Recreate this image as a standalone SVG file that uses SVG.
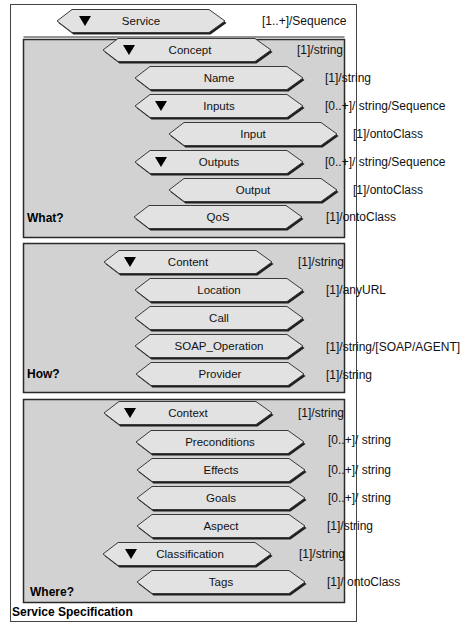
<svg xmlns="http://www.w3.org/2000/svg" xmlns:xlink="http://www.w3.org/1999/xlink" width="470" height="625" viewBox="0 0 470 625">
  <style>
    .panel { fill: #d2d2d2; stroke: #2a2a2a; stroke-width: 1.5; }
    .panel-top { stroke: #2a2a2a; stroke-width: 1; fill: none; }
    .frame { fill: #ffffff; stroke: #444; stroke-width: 1; }
    .name { font-family: "Liberation Sans", Arial, sans-serif; font-size: 11.5px; fill: #111; text-anchor: middle; }
    .type { font-family: "Liberation Sans", Arial, sans-serif; font-size: 12px; fill: #111; }
    .tag { font-family: "Liberation Sans", Arial, sans-serif; font-size: 12px; font-weight: bold; fill: #000; }
    .tri { fill: #000; }
  </style>
  <defs>
    <!-- hexagonal tab shape, origin at the left point -->
    <polygon id="tab" points="0,0 15,-11.5 152,-11.5 168,0 152,11.5 15,11.5"/>
    <g id="node">
      <use xlink:href="#tab" transform="translate(1.5,2)" fill="#1e1e1e"/>
      <use xlink:href="#tab" fill="#e2e2e2" stroke="#3a3a3a" stroke-width="1"/>
    </g>
    <polygon id="arrow" points="-6,-5 6,-5 0,5"/>
  </defs>

  <!-- outer frame -->
  <rect class="frame" x="10.5" y="4.5" width="346" height="617"/>
  <text class="tag" x="12" y="616">Service Specification</text>

  <!-- section panels -->
  <rect class="panel" x="23.5" y="39.5" width="321" height="198"/>
  <line class="panel-top" x1="23.5" y1="37" x2="344.5" y2="37"/>
  <rect class="panel" x="23.5" y="243.5" width="321" height="149"/>
  <rect class="panel" x="23.5" y="399.5" width="321" height="203"/>
  <text class="tag" x="27" y="222">What?</text>
  <text class="tag" x="27" y="378">How?</text>
  <text class="tag" x="30" y="596">Where?</text>

  <!-- Service -->
  <g id="service">
    <use xlink:href="#node" x="57" y="21"/>
    <use xlink:href="#arrow" x="85" y="21" class="tri"/>
    <text class="name" x="141" y="25">Service</text>
    <text class="type" x="262" y="25">[1..+]/Sequence</text>
  </g>

  <!-- What? -->
  <g id="concept">
    <use xlink:href="#node" x="103" y="50"/>
    <use xlink:href="#arrow" x="129" y="50" class="tri"/>
    <text class="name" x="190" y="54">Concept</text>
    <text class="type" x="297" y="54">[1]/string</text>
  </g>
  <g id="name">
    <use xlink:href="#node" x="135" y="78"/>
    <text class="name" x="219" y="82">Name</text>
    <text class="type" x="325" y="82">[1]/string</text>
  </g>
  <g id="inputs">
    <use xlink:href="#node" x="135" y="106"/>
    <use xlink:href="#arrow" x="161" y="106" class="tri"/>
    <text class="name" x="219" y="110">Inputs</text>
    <text class="type" x="325" y="110">[0..+]/ string/Sequence</text>
  </g>
  <g id="input">
    <use xlink:href="#node" x="169" y="134"/>
    <text class="name" x="253" y="138">Input</text>
    <text class="type" x="353" y="138">[1]/ontoClass</text>
  </g>
  <g id="outputs">
    <use xlink:href="#node" x="135" y="162"/>
    <use xlink:href="#arrow" x="161" y="162" class="tri"/>
    <text class="name" x="219" y="166">Outputs</text>
    <text class="type" x="325" y="166">[0..+]/ string/Sequence</text>
  </g>
  <g id="output">
    <use xlink:href="#node" x="169" y="190"/>
    <text class="name" x="253" y="194">Output</text>
    <text class="type" x="353" y="194">[1]/ontoClass</text>
  </g>
  <g id="qos">
    <use xlink:href="#node" x="134" y="217"/>
    <text class="name" x="218" y="221">QoS</text>
    <text class="type" x="326" y="221">[1]/ontoClass</text>
  </g>

  <!-- How? -->
  <g id="content">
    <use xlink:href="#node" x="104" y="262"/>
    <use xlink:href="#arrow" x="130" y="262" class="tri"/>
    <text class="name" x="188" y="266">Content</text>
    <text class="type" x="298" y="266">[1]/string</text>
  </g>
  <g id="location">
    <use xlink:href="#node" x="135" y="290"/>
    <text class="name" x="219" y="294">Location</text>
    <text class="type" x="326" y="294">[1]/anyURL</text>
  </g>
  <g id="call">
    <use xlink:href="#node" x="135" y="318"/>
    <text class="name" x="219" y="322">Call</text>
  </g>
  <g id="soap-operation">
    <use xlink:href="#node" x="135" y="346"/>
    <text class="name" x="219" y="350">SOAP_Operation</text>
    <text class="type" x="326" y="351">[1]/string/[SOAP/AGENT]</text>
  </g>
  <g id="provider">
    <use xlink:href="#node" x="136" y="374"/>
    <text class="name" x="220" y="378">Provider</text>
    <text class="type" x="326" y="379">[1]/string</text>
  </g>

  <!-- Where? -->
  <g id="context">
    <use xlink:href="#node" x="104" y="413"/>
    <use xlink:href="#arrow" x="130" y="413" class="tri"/>
    <text class="name" x="188" y="417">Context</text>
    <text class="type" x="298" y="417">[1]/string</text>
  </g>
  <g id="preconditions">
    <use xlink:href="#node" x="136" y="442"/>
    <text class="name" x="220" y="446">Preconditions</text>
    <text class="type" x="328" y="444">[0..+]/ string</text>
  </g>
  <g id="effects">
    <use xlink:href="#node" x="137" y="470"/>
    <text class="name" x="221" y="474">Effects</text>
    <text class="type" x="328" y="474">[0..+]/ string</text>
  </g>
  <g id="goals">
    <use xlink:href="#node" x="137" y="498"/>
    <text class="name" x="221" y="502">Goals</text>
    <text class="type" x="328" y="502">[0..+]/ string</text>
  </g>
  <g id="aspect">
    <use xlink:href="#node" x="137" y="526"/>
    <text class="name" x="221" y="530">Aspect</text>
    <text class="type" x="327" y="530">[1]/string</text>
  </g>
  <g id="classification">
    <use xlink:href="#node" x="103" y="554"/>
    <use xlink:href="#arrow" x="131" y="554" class="tri"/>
    <text class="name" x="190" y="558">Classification</text>
    <text class="type" x="299" y="558">[1]/string</text>
  </g>
  <g id="tags">
    <use xlink:href="#node" x="137" y="582"/>
    <text class="name" x="221" y="586">Tags</text>
    <text class="type" x="327" y="586">[1]/ ontoClass</text>
  </g>
</svg>
